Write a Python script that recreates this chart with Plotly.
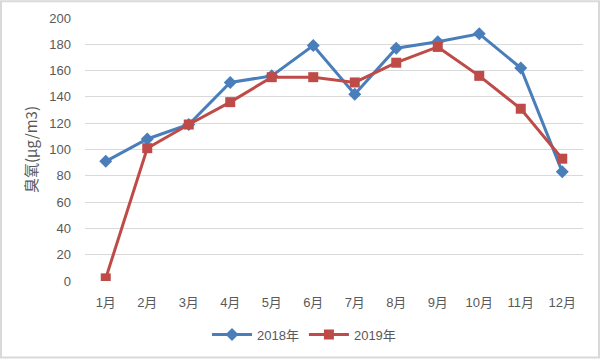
import plotly.graph_objects as go

months = ["1月", "2月", "3月", "4月", "5月", "6月", "7月", "8月", "9月", "10月", "11月", "12月"]
ozone_2018 = [91, 108, 119, 151, 156, 179, 142, 177, 182, 188, 162, 83]
ozone_2019 = [2, 101, 119, 136, 155, 155, 151, 166, 178, 156, 131, 93]
y_ticks = [0, 20, 40, 60, 80, 100, 120, 140, 160, 180, 200]

W, H = 602, 362
ml, mr, mt, mb = 85, 19, 18, 79
pw, ph = W - ml - mr, H - mt - mb

font_family = "Liberation Sans, Noto Sans CJK SC, sans-serif"
tick_color = "#595959"

fig = go.Figure()
fig.add_trace(go.Scatter(
    x=months, y=ozone_2018, name="2018年", mode="lines+markers",
    line=dict(color="#4A7EBB", width=3),
    marker=dict(symbol="diamond", size=10, color="#4A7EBB"),
))
fig.add_trace(go.Scatter(
    x=months, y=ozone_2019, name="2019年", mode="lines+markers",
    line=dict(color="#BE4B48", width=3),
    marker=dict(symbol="square", size=10, color="#BE4B48"),
))

def px_x(p):
    return (p - ml) / pw

def px_y(p):
    return (H - mb - p) / ph

fig.add_shape(type="rect", xref="paper", yref="paper",
              x0=px_x(1), x1=px_x(599), y0=px_y(360), y1=px_y(1),
              line=dict(color="#D9D9D9", width=2), layer="above")

fig.update_layout(
    width=W, height=H,
    margin=dict(l=ml, r=mr, t=mt, b=mb),
    paper_bgcolor="white", plot_bgcolor="white",
    font=dict(family=font_family, size=13, color=tick_color),
    showlegend=True,
    legend=dict(orientation="h", x=px_x(304), xanchor="center", y=px_y(337), yanchor="middle",
                font=dict(size=13, color=tick_color), itemwidth=40, tracegroupgap=0),
    xaxis=dict(type="category", range=[-0.5, 11.5], showgrid=False, zeroline=False,
               showline=False, ticks="", tickfont=dict(size=13, color=tick_color), ticklabelstandoff=12),
    yaxis=dict(range=[0, 200], tickvals=y_ticks, showgrid=True, gridcolor="#D9D9D9", gridwidth=1,
               zeroline=False, showline=False, ticks="", tickfont=dict(size=13, color=tick_color),
               ticklabelstandoff=13,
               title=dict(text="臭氧(μg/m3)",
                          font=dict(family="Noto Sans CJK SC, sans-serif", size=15, color=tick_color),
                          standoff=8)),
)

fig.write_html("out.html", config={"displayModeBar": False},
               post_script="document.body.style.margin='0';")
